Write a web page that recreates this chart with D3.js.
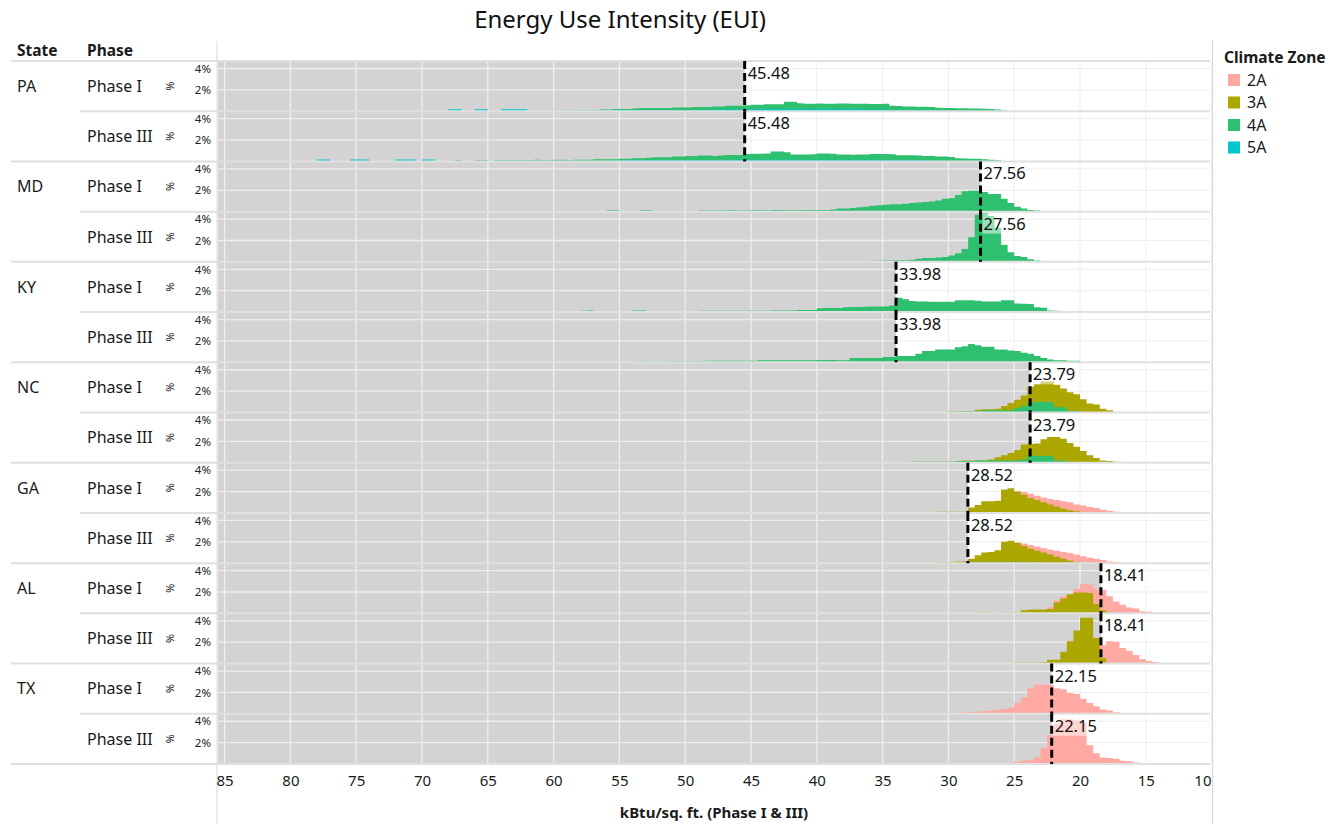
<!DOCTYPE html>
<html><head><meta charset="utf-8">
<script src="https://cdn.jsdelivr.net/npm/d3@7"></script>
<style>
body{margin:0;background:#fff;}
svg{display:block;font-family:"Noto Sans",sans-serif;}
</style>
</head><body><svg id="c" width="1342" height="824"></svg>
<script>
// ---------------- DATA ----------------
const STATES = ["PA","MD","KY","NC","GA","AL","TX"];
const PHASES = ["Phase I","Phase III"];
const STATE_AVG = [45.48, 27.56, 33.98, 23.79, 28.52, 18.41, 22.15];
const ZONES = ["2A","3A","4A","5A"];
const X_TICKS = [85,80,75,70,65,60,55,50,45,40,35,30,25,20,15,10];
const Y_TICKS = [2,4];
const BIN = 0.5; // kBtu/sq.ft. histogram bin width

// each histogram: left-most bin start (EUI) and % of buildings per bin, going to lower EUI
const PA_I_4A_START = 62;
const PA_I_4A = [0.05,0.05,0,0.05,0.05,0.1,0.05,0.1,0.1,0.1,
 0.1,0.15,0.15,0.2,0.2,0.2,0.25,0.3,0.3,0.3,
 0.3,0.3,0.35,0.35,0.35,0.4,0.4,0.4,0.45,0.45,
 0.5,0.5,0.5,0.55,0.6,0.6,0.65,0.65,0.65,0.88,
 0.88,0.75,0.7,0.7,0.72,0.7,0.7,0.72,0.72,0.7,
 0.7,0.7,0.68,0.68,0.7,0.5,0.48,0.45,0.45,0.42,
 0.42,0.4,0.32,0.3,0.3,0.28,0.28,0.25,0.25,0.22,
 0.2,0.15,0.1];
const PA_I_5A_START = 68;
const PA_I_5A = [0.18,0.18,0,0,0.18,0.18,0,0,0.18,0.18,0.18,0.18,0,0,0,0,0,0,0,0,0,0,0.05,0.05,0.05,
 0.1,0.1,0.1,0.1,0.1,0.1,0.1,0.1,0.1,0.1,0.1,0.1,0.12,0.12,0.12,0.15,0.15,0.15,0.15,0.15,
 0.18,0.18,0.2,0.2,0.2,0.2,0.2,0.2,0.2,0.18,0.18,0.2,0.2,0.18,0.18,0.2,0.2,0.18,0.15,0.15,
 0.15,0.15,0.12,0.12,0.1,0.1,0.1,0.1,0.08,0.08,0.08,0.05,0.05,0.05,0.05,0.05];
const PA_III_4A_START = 68.5;
const PA_III_4A = [0.05,0.05,0.1,0.05,0.05,0.1,0.1,0.05,0.1,0.1,
 0.1,0.1,0.1,0.1,0.15,0.1,0.1,0.15,0.15,0.1,
 0.15,0.15,0.15,0.2,0.2,0.2,0.2,0.25,0.25,0.3,
 0.3,0.35,0.4,0.4,0.4,0.45,0.45,0.5,0.5,0.55,
 0.55,0.5,0.55,0.6,0.6,0.6,0.7,0.72,0.72,0.75,
 0.92,0.93,0.85,0.65,0.65,0.65,0.68,0.75,0.75,0.72,
 0.65,0.65,0.62,0.65,0.65,0.7,0.7,0.7,0.68,0.58,
 0.57,0.57,0.55,0.5,0.5,0.45,0.45,0.42,0.3,0.28,
 0.25,0.25,0.2,0.15,0.1];
const PA_III_5A_START = 78;
const PA_III_5A = [0.18,0.18,0,0,0,0.18,0.18,0.18,0,0,
 0,0,0.18,0.18,0.18,0,0.18,0.18,0,0.05,
 0.05,0.05,0.05,0.05,0.05,0.05,0.05,0.05,0.05,0.05,
 0.05,0.05,0.05,0.05,0.05,0.05,0.05,0.05,0.05,0.05,
 0.05,0.05,0.05,0.05,0.05,0.1,0.1,0.1,0.1,0.1,
 0.1,0.1,0.1,0.1,0.1,0.1,0.1,0.1,0.1,0.1,
 0.1,0.1,0.1,0.15,0.15,0.15,0.15,0.15,0.15,0.15,
 0.15,0.15,0.15,0.15,0.15,0.15,0.15,0.15,0.15,0.15,
 0.15,0.15,0.15,0.15,0.15,0.12,0.1,0.1,0.1,0.1,
 0.1,0.1,0.1,0.05,0.05,0.05,0.05,0.05,0.05];
const MD_I_4A_START = 56;
const MD_I_4A = [0.12,0.12,0,0,0,0.12,0.12,0,0,0,
 0,0,0,0,0.1,0.1,0.1,0.1,0.12,0.12,
 0.1,0.1,0.12,0.12,0.1,0.15,0.15,0.12,0.12,0.12,
 0.15,0.15,0.15,0.15,0.2,0.3,0.3,0.35,0.4,0.45,
 0.55,0.6,0.65,0.7,0.7,0.75,0.8,0.85,0.9,0.95,
 1.05,1.2,1.25,1.55,1.9,1.95,1.95,1.85,1.65,1.65,
 1.2,0.8,0.45,0.3,0.15,0.1];
const MD_III_4A_START = 36;
const MD_III_4A = [0.1,0.1,0.12,0.12,0.15,0.15,0.2,0.3,0.35,0.35,
 0.4,0.45,0.6,0.8,1.2,2.3,4.4,4.55,4.3,3.2,
 1.6,0.9,0.55,0.45,0.25,0.12];
const KY_I_4A_START = 61.5;
const KY_I_4A = [0.1,0.1,0.1,0.08,0.1,0.1,0.1,0.12,0.15,0.1,
 0.1,0.1,0.1,0.1,0.1,0.15,0.15,0.1,0.1,0.1,
 0.1,0.1,0.1,0.1,0.1,0.12,0.12,0.12,0.12,0.12,
 0.12,0.12,0.12,0.12,0.12,0.12,0.15,0.15,0.15,0.15,
 0.2,0.2,0.2,0.35,0.37,0.37,0.37,0.45,0.47,0.47,
 0.5,0.53,0.53,0.53,0.62,1.35,1.2,1.03,1.0,1.0,
 0.97,0.97,0.97,0.97,1.1,1.1,1.1,1.05,1.0,1.0,
 1.0,1.1,1.1,0.8,0.78,0.75,0.45,0.4,0.15,0.12,
 0.1,0.1,0.1,0.1,0.1,0.08,0.08,0.05,0.05];
const KY_III_4A_START = 54;
const KY_III_4A = [0.1,0.1,0.1,0.05,0.1,0.1,0.12,0.12,0.1,0.12,
 0.12,0.15,0.15,0.15,0.15,0.15,0.15,0.15,0.15,0.18,
 0.18,0.18,0.18,0.2,0.2,0.2,0.2,0.18,0.22,0.22,
 0.22,0.2,0.2,0.4,0.4,0.4,0.4,0.4,0.5,0.5,
 0.6,0.6,0.6,0.8,1.05,1.05,1.2,1.2,1.2,1.4,
 1.5,1.7,1.6,1.45,1.45,1.2,1.2,1.1,1.05,0.9,
 0.8,0.6,0.4,0.25,0.2,0.2,0.15,0.15];
const NC_I_3A_START = 30;
const NC_I_3A = [0.1,0.1,0.12,0.15,0.25,0.3,0.3,0.35,0.6,0.9,
 1.2,1.6,2.4,2.65,2.9,2.9,2.6,2.25,1.9,1.7,
 1.25,0.85,0.75,0.35,0.2];
const NC_I_4A_START = 30;
const NC_I_4A = [0.1,0.1,0.1,0.1,0.15,0.2,0.2,0.2,0.2,0.2,
 0.4,0.6,0.95,0.95,1.0,0.95,0.5,0.5,0.15,0.15,0.05];
const NC_III_3A_START = 34;
const NC_III_3A = [0.05,0.05,0.05,0.1,0.1,0.1,0.1,0.1,0.1,0.15,
 0.2,0.2,0.2,0.2,0.3,0.5,0.7,0.9,1.2,1.7,
 1.75,1.8,2.2,2.4,2.4,2.25,1.85,1.5,1.1,0.7,
 0.45,0.2,0.15,0.1];
const NC_III_4A_START = 33;
const NC_III_4A = [0.1,0.1,0.1,0.1,0.1,0.1,0.1,0.15,0.15,0.15,
 0.2,0.2,0.2,0.2,0.2,0.2,0.2,0.3,0.65,0.65,
 0.65,0.6,0.2,0.2,0.1];
const GA_I_3A_START = 31;
const GA_I_3A = [0.1,0.1,0.1,0.1,0.12,0.5,0.75,1.1,1.1,1.15,
 2.2,2.3,2.0,1.7,1.4,1.2,1.0,0.8,0.6,0.4,
 0.25,0.15,0.05];
const GA_I_2A_START = 27;
const GA_I_2A = [0.3,0.8,1.5,2.0,2.0,1.95,1.8,1.6,1.45,1.3,
 1.2,1.1,1.0,0.8,0.7,0.55,0.45,0.3,0.2,0.1];
const GA_III_3A_START = 31;
const GA_III_3A = [0.1,0.1,0.1,0.15,0.15,0.4,0.75,1.0,1.05,1.2,
 2.0,2.1,1.9,1.6,1.35,1.15,1.0,0.8,0.6,0.4,
 0.25,0.1];
const GA_III_2A_START = 27;
const GA_III_2A = [0.3,0.8,1.5,1.9,1.9,1.85,1.7,1.55,1.4,1.25,
 1.15,1.05,0.95,0.8,0.65,0.5,0.4,0.3,0.15,0.1];
const GA_III_4A_START = 29;
const GA_III_4A = [0.08,0.08,0.08,0.08,0.08,0.08,0.08,0.08,0.08,0.08,0.05];
const AL_I_3A_START = 28;
const AL_I_3A = [0.1,0.1,0.1,0,0.1,0.1,0.1,0.3,0.35,0.35,
 0.35,0.4,1.05,1.4,1.8,1.95,1.95,1.9,0.85,0.3,
 0.1];
const AL_I_2A_START = 24;
const AL_I_2A = [0.1,0.2,0.3,0.6,1.2,1.6,1.7,2.3,2.75,2.7,
 2.3,2.2,1.6,1.1,0.8,0.55,0.45,0.2,0.15,0.05];
const AL_III_3A_START = 25;
const AL_III_3A = [0.1,0.1,0.1,0.1,0.15,0.35,0.35,1.1,2.1,3.1,
 4.3,4.3,2.4,0.5];
const AL_III_2A_START = 21;
const AL_III_2A = [0.5,1.2,1.8,2.1,2.25,1.75,2.1,2.05,1.45,1.2,
 0.8,0.4,0.25,0.15,0.05];
const TX_I_2A_START = 30;
const TX_I_2A = [0.1,0.1,0.15,0.2,0.2,0.25,0.3,0.35,0.45,0.6,
 1.0,1.55,2.4,2.75,2.75,2.7,2.4,2.3,1.95,1.85,
 1.4,1.0,0.7,0.4,0.3,0.15];
const TX_III_2A_START = 25.5;
const TX_III_2A = [0.1,0.2,0.3,0.4,0.6,1.5,2.7,3.8,4.2,4.2,
 4.1,3.9,1.75,1.0,0.6,0.55,0.5,0.3,0.25,0.15,
 0.05];

// table built from the arrays above
const SERIES = [
 ["PA","Phase I","4A",PA_I_4A_START,PA_I_4A],["PA","Phase I","5A",PA_I_5A_START,PA_I_5A],
 ["PA","Phase III","4A",PA_III_4A_START,PA_III_4A],["PA","Phase III","5A",PA_III_5A_START,PA_III_5A],
 ["MD","Phase I","4A",MD_I_4A_START,MD_I_4A],["MD","Phase III","4A",MD_III_4A_START,MD_III_4A],
 ["KY","Phase I","4A",KY_I_4A_START,KY_I_4A],["KY","Phase III","4A",KY_III_4A_START,KY_III_4A],
 ["NC","Phase I","3A",NC_I_3A_START,NC_I_3A],["NC","Phase I","4A",NC_I_4A_START,NC_I_4A],
 ["NC","Phase III","3A",NC_III_3A_START,NC_III_3A],["NC","Phase III","4A",NC_III_4A_START,NC_III_4A],
 ["GA","Phase I","2A",GA_I_2A_START,GA_I_2A],["GA","Phase I","3A",GA_I_3A_START,GA_I_3A],
 ["GA","Phase III","2A",GA_III_2A_START,GA_III_2A],["GA","Phase III","3A",GA_III_3A_START,GA_III_3A],
 ["GA","Phase III","4A",GA_III_4A_START,GA_III_4A],
 ["AL","Phase I","2A",AL_I_2A_START,AL_I_2A],["AL","Phase I","3A",AL_I_3A_START,AL_I_3A],
 ["AL","Phase III","2A",AL_III_2A_START,AL_III_2A],["AL","Phase III","3A",AL_III_3A_START,AL_III_3A],
 ["TX","Phase I","2A",TX_I_2A_START,TX_I_2A],["TX","Phase III","2A",TX_III_2A_START,TX_III_2A]
].map(([state,phase,zone,start,pct])=>({state,phase,zone,start,pct}));

// ---------------- STYLE / LAYOUT ----------------
const COLORS = {"2A":"#FFA9A2","3A":"#ACA700","4A":"#2EBF6F","5A":"#00C8CB"};
const GRAY = "#d3d3d3";
const plotL = 218, plotR = 1210, plotT = 61, plotB = 764;
const nRows = STATES.length * PHASES.length;
const rowH = (plotB - plotT) / nRows;

const svg = d3.select("#c");
const x = d3.scaleLinear().domain([85, 10]).range([224.6, 1211.6]);
const band = d3.scaleBand().domain(d3.range(nRows)).range([plotT, plotB]).paddingInner(0).paddingOuter(0);

const gPanels = svg.append("g");
const panels = [];
STATES.forEach((st, si) => {
  PHASES.forEach((ph, pi) => {
    const idx = si * 2 + pi;
    const top = band(idx), bot = top + band.bandwidth();
    const y = d3.scaleLinear().domain([0, 4.7]).range([bot, top]);
    panels.push({st, ph, si, pi, idx, top, bot, y, avg: STATE_AVG[si]});
  });
});

// backgrounds and gridlines
panels.forEach(p => {
  const g = gPanels.append("g");
  const ax = x(p.avg);
  X_TICKS.forEach(t => g.append("line").attr("x1", x(t)).attr("x2", x(t)).attr("y1", p.top).attr("y2", p.bot)
    .attr("stroke", "#eeeeee").attr("stroke-width", 1));
  Y_TICKS.forEach(t => g.append("line").attr("x1", plotL).attr("x2", plotR).attr("y1", p.y(t)).attr("y2", p.y(t))
    .attr("stroke", "#eeeeee").attr("stroke-width", 1));
  g.append("rect").attr("x", plotL).attr("y", p.top).attr("width", ax - plotL).attr("height", p.bot - p.top).attr("fill", GRAY);
  X_TICKS.filter(t => x(t) < ax).forEach(t => g.append("line").attr("x1", x(t)).attr("x2", x(t)).attr("y1", p.top).attr("y2", p.bot)
    .attr("stroke", "#eeeeee").attr("stroke-width", 1.3));
  Y_TICKS.forEach(t => g.append("line").attr("x1", plotL).attr("x2", ax).attr("y1", p.y(t)).attr("y2", p.y(t))
    .attr("stroke", "#eeeeee").attr("stroke-width", 1.3));
});

// histograms
const gMarks = svg.append("g");
panels.forEach(p => {
  const ser = SERIES.filter(s => s.state === p.st && s.phase === p.ph)
    .sort((a, b) => ZONES.indexOf(a.zone) - ZONES.indexOf(b.zone));
  const area = d3.area().curve(d3.curveStepAfter)
    .x(d => x(d.e)).y0(p.y(0)).y1(d => p.y(d.v));
  ser.forEach(s => {
    const pts = s.pct.map((v, i) => ({e: s.start - i * BIN, v}));
    pts.push({e: s.start - s.pct.length * BIN, v: s.pct[s.pct.length - 1]});
    gMarks.append("path").attr("d", area(pts)).attr("fill", COLORS[s.zone]);
  });
});

// separators
const gSep = svg.append("g");
for (let i = 0; i <= nRows; i++) {
  const yy = plotT + i * rowH;
  gSep.append("line").attr("x1", i % 2 === 0 ? 11 : 80).attr("x2", plotR).attr("y1", yy).attr("y2", yy)
    .attr("stroke", "#e0e0e0").attr("stroke-width", 2);
}
gSep.append("line").attr("x1", 217).attr("x2", 217).attr("y1", 41).attr("y2", 824).attr("stroke", "#d9d9d9").attr("stroke-width", 1);
gSep.append("line").attr("x1", 1212.5).attr("x2", 1212.5).attr("y1", 40).attr("y2", 824).attr("stroke", "#d9d9d9").attr("stroke-width", 1);

// reference lines + labels
const gRef = svg.append("g");
panels.forEach(p => {
  const ax = x(p.avg);
  gRef.append("line").attr("x1", ax).attr("x2", ax).attr("y1", p.top).attr("y2", p.bot)
    .attr("stroke", "#000").attr("stroke-width", 3).attr("stroke-dasharray", "8,4");
  const txt = gRef.append("text").attr("x", ax + 3).attr("y", p.top + 18)
    .attr("font-size", 16.5).attr("fill", "#111").text(p.avg.toFixed(2));
  const bb = txt.node().getBBox();
  gRef.insert("rect", () => txt.node()).attr("x", bb.x - 1).attr("y", bb.y + 2).attr("width", bb.width + 2).attr("height", bb.height - 3)
    .attr("fill", "#fff").attr("fill-opacity", 0.5);
});

// left headers
const gL = svg.append("g").attr("fill", "#1a1a1a");
gL.append("text").attr("x", 17).attr("y", 56).attr("font-size", 15.5).attr("font-weight", "bold").text("State");
gL.append("text").attr("x", 87).attr("y", 56).attr("font-size", 15.5).attr("font-weight", "bold").text("Phase");
panels.forEach(p => {
  const cy = (p.top + p.bot) / 2;
  if (p.pi === 0) gL.append("text").attr("x", 17).attr("y", cy).attr("dy", "0.36em").attr("font-size", 16).text(p.st);
  gL.append("text").attr("x", 87).attr("y", cy).attr("dy", "0.36em").attr("font-size", 16).text(p.ph);
  gL.append("text").attr("transform", `translate(170,${cy}) rotate(90)`).attr("text-anchor", "middle").attr("dy", "0.36em")
    .attr("font-size", 11).text("%");
  const yAxis = d3.axisLeft(p.y).tickValues(Y_TICKS).tickSize(0).tickPadding(0).tickFormat(d => d + "%");
  const ga = svg.append("g").attr("transform", "translate(211,0)").call(yAxis);
  ga.select(".domain").remove();
  ga.selectAll("text").attr("font-size", 11.5).attr("fill", "#222").attr("font-family", "Noto Sans");
});

// x axis
const xAxis = d3.axisBottom(x).tickValues(X_TICKS).tickSize(0).tickPadding(0).tickFormat(d3.format("d"));
const gx = svg.append("g").attr("transform", "translate(0,775)").call(xAxis);
gx.select(".domain").remove();
gx.selectAll("text").attr("font-size", 15).attr("fill", "#1a1a1a").attr("font-family", "Noto Sans")
  .filter(d => d === 10).attr("text-anchor", "end").attr("x", 1211 - x(10));
svg.append("text").attr("x", 714).attr("y", 818).attr("text-anchor", "middle").attr("font-size", 15).attr("font-weight", "bold")
  .attr("fill", "#1a1a1a").text("kBtu/sq. ft. (Phase I & III)");

// title
svg.append("text").attr("x", 620).attr("y", 28).attr("text-anchor", "middle").attr("font-size", 24).attr("fill", "#111")
  .text("Energy Use Intensity (EUI)");

// legend
const gLeg = svg.append("g");
gLeg.append("text").attr("x", 1224).attr("y", 63).attr("font-size", 15.5).attr("font-weight", "bold").attr("fill", "#1a1a1a").text("Climate Zone");
ZONES.forEach((z, i) => {
  const cy = 80 + i * 22.5;
  gLeg.append("rect").attr("x", 1228).attr("y", cy - 6).attr("width", 12).attr("height", 12).attr("fill", COLORS[z]);
  gLeg.append("text").attr("x", 1247).attr("y", cy).attr("dy", "0.36em").attr("font-size", 16).attr("fill", "#1a1a1a").text(z);
});
</script></body></html>
